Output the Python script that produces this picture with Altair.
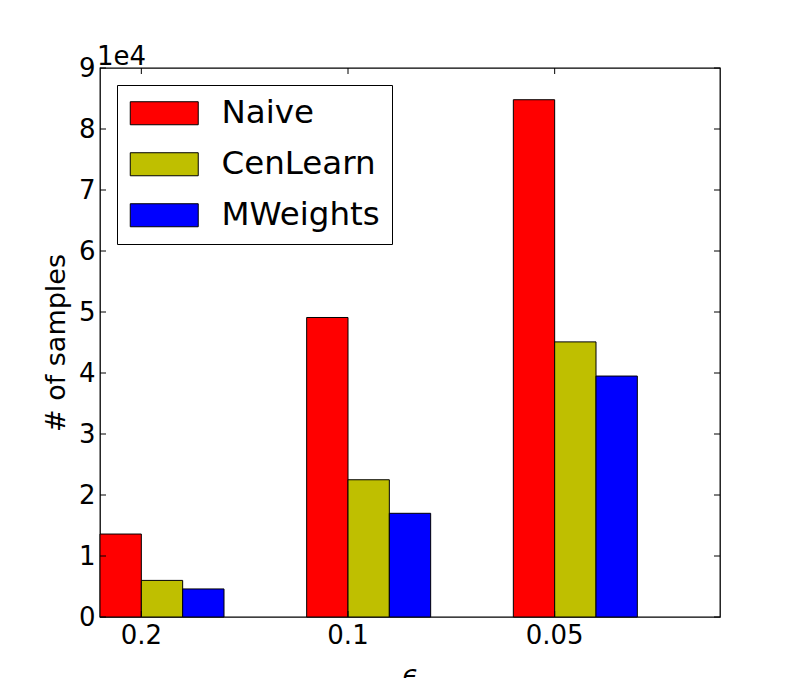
import altair as alt
import pandas as pd

eps_labels = ["0.2", "0.1", "0.05"]
methods = ["Naive", "CenLearn", "MWeights"]
colors = ["#ff0000", "#bfbf00", "#0000ff"]
naive = [13600, 49100, 84800]
cenlearn = [6000, 22500, 45100]
mweights = [4600, 17000, 39500]
y_ticks = [0, 10000, 20000, 30000, 40000, 50000, 60000, 70000, 80000, 90000]
offset_text = ["1e4"]

rows = []
for i, e in enumerate(eps_labels):
    for m, vals in zip(methods, [naive, cenlearn, mweights]):
        rows.append({"eps": e, "method": m, "value": vals[i]})
df = pd.DataFrame(rows)
ytick_df = pd.DataFrame({"value": y_ticks})
xtick_df = pd.DataFrame({"eps": eps_labels})
text_df = pd.DataFrame({"t": offset_text})

W, H = 620, 549
TL = 6
FONT = "DejaVu Sans"
BAND = W / 3

x_enc = alt.X(
    "eps:N",
    sort=eps_labels,
    scale=alt.Scale(paddingInner=0, paddingOuter=0),
    axis=alt.Axis(
        title="ϵ",
        labelAngle=0,
        labelFontSize=26,
        labelPadding=5,
        labelOffset=-0.3 * BAND,
        titleFontSize=26,
        titleFontStyle="italic",
        titleFontWeight="normal",
        titleBaseline="alphabetic",
        titleY=66,
    ),
)
y_enc = alt.Y(
    "value:Q",
    scale=alt.Scale(domain=[0, 90000], nice=False),
    axis=alt.Axis(
        title="# of samples",
        values=y_ticks,
        labelExpr="datum.value / 10000",
        labelFontSize=26,
        labelPadding=5,
        titleFontSize=27,
        titleFontWeight="normal",
        titleX=-44,
        titleY=H / 2,
        titleBaseline="middle",
    ),
)

bars = alt.Chart(df).mark_bar(stroke="black", strokeWidth=1, opacity=1).encode(
    x=x_enc,
    xOffset=alt.XOffset(
        "method:N",
        scale=alt.Scale(domain=methods + ["_a", "_b"], paddingInner=0, paddingOuter=0),
    ),
    y=y_enc,
    color=alt.Color(
        "method:N",
        scale=alt.Scale(domain=methods, range=colors),
        legend=alt.Legend(
            title=None,
            orient="none",
            legendX=17,
            legendY=17,
            symbolType="M-1,-0.767H3.533V0.767H-1Z",
            symbolSize=900,
            symbolStrokeColor="black",
            symbolStrokeWidth=1,
            symbolOpacity=1,
            labelFontSize=32.5,
            labelFont=FONT,
            labelOffset=60,
            padding=12,
            rowPadding=18,
            strokeColor="black",
            fillColor="white",
            cornerRadius=0,
        ),
    ),
)

ytick_left = alt.Chart(ytick_df).mark_rule(color="black", strokeWidth=1).encode(
    y="value:Q", x=alt.value(0), x2=alt.value(TL)
)
ytick_right = alt.Chart(ytick_df).mark_rule(color="black", strokeWidth=1).encode(
    y="value:Q", x=alt.value(W - TL), x2=alt.value(W)
)
xtick_bottom = alt.Chart(xtick_df).mark_rule(color="black", strokeWidth=1).encode(
    x=alt.X("eps:N", sort=eps_labels, bandPosition=0.2), y=alt.value(H - TL), y2=alt.value(H)
)
xtick_top = alt.Chart(xtick_df).mark_rule(color="black", strokeWidth=1).encode(
    x=alt.X("eps:N", sort=eps_labels, bandPosition=0.2), y=alt.value(0), y2=alt.value(TL)
)
offset_label = alt.Chart(text_df).mark_text(
    align="left", baseline="alphabetic", fontSize=26, font=FONT, color="black"
).encode(text="t:N", x=alt.value(-3), y=alt.value(-3))

chart = (
    alt.layer(bars, ytick_left, ytick_right, xtick_bottom, xtick_top, offset_label)
    .properties(
        width=W,
        height=H,
        padding={"left": 92, "top": 60, "right": 72, "bottom": 61},
        autosize=alt.AutoSizeParams(type="none"),
    )
    .configure(font=FONT)
    .configure_view(stroke="black", strokeWidth=1.3)
    .configure_axis(
        domain=False, ticks=False, grid=False, labelColor="black", titleColor="black",
        labelFont=FONT, titleFont=FONT,
    )
    .configure_legend(labelColor="black")
)

chart.save("out.html", embed_options={"renderer": "svg", "actions": False})
